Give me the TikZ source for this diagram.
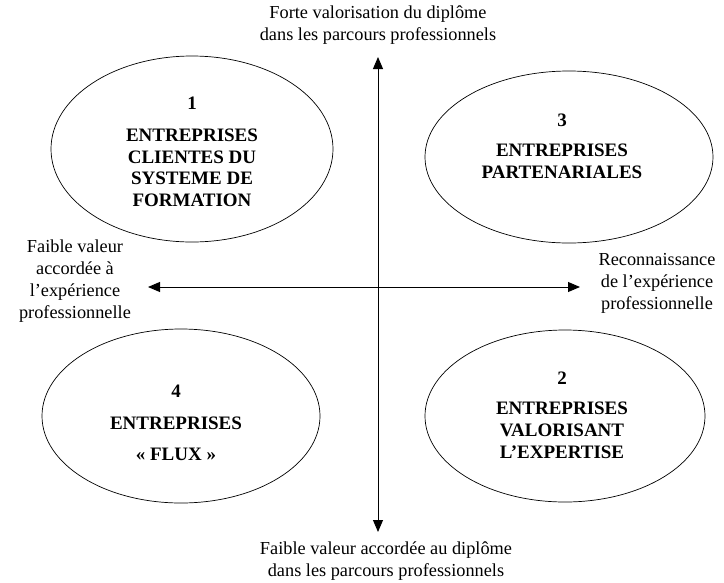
\documentclass[tikz,border=0pt]{standalone}
\usepackage{fontspec}
\setmainfont{Liberation Serif}
\usetikzlibrary{arrows.meta}

\begin{document}
\begin{tikzpicture}[x=1pt, y=-1pt,
  lbl/.style={align=center, font=\fontsize{18.3}{22}\selectfont},
  quad/.style={align=center, font=\fontsize{19}{21.6}\selectfont\bfseries},
  axe/.style={line width=0.9pt, {Triangle[length=12pt,width=10pt]}-{Triangle[length=12pt,width=10pt]}}]
\useasboundingbox (0,0) rectangle (724,582);
% ellipses
\draw [line width=0.7pt] (192,149) ellipse (141 and 93);
\draw [line width=0.7pt] (569,157) ellipse (144 and 86);
\draw [line width=0.7pt] (181,416) ellipse (139 and 87);
\draw [line width=0.7pt] (565,416) ellipse (140 and 86);
% axes
\coordinate (haut) at (378,57);
\coordinate (bas) at (378,532);
\coordinate (gauche) at (148,287);
\coordinate (droite) at (580,287);
\draw [axe] (bas) -- (haut);
\draw [axe] (gauche) -- (droite);
\node [lbl] (diplome) at (378,25) {Forte valorisation du diplôme\\dans les parcours professionnels};
\node [lbl] (nodiplome) at (386,561) {Faible valeur accordée au diplôme\\dans les parcours professionnels};
\node [lbl] (noexp) at (75,281) {Faible valeur\\accordée à\\l’expérience\\professionnelle};
\node [lbl] (exp) at (657,283) {Reconnaissance\\de l’expérience\\professionnelle};
% the four kinds of firms
\node [quad] (q1) at (192,152) {1\\[10pt]ENTREPRISES\\CLIENTES DU\\SYSTEME DE\\FORMATION};
\node [quad] (q3) at (562,146) {3\\[9pt]ENTREPRISES\\PARTENARIALES};
\node [quad] (q4) at (176,423) {4\\[10pt]ENTREPRISES\\[10pt]« FLUX »};
\node [quad] (q2) at (562,415) {2\\[9pt]ENTREPRISES\\VALORISANT\\L’EXPERTISE};
\end{tikzpicture}
\end{document}
